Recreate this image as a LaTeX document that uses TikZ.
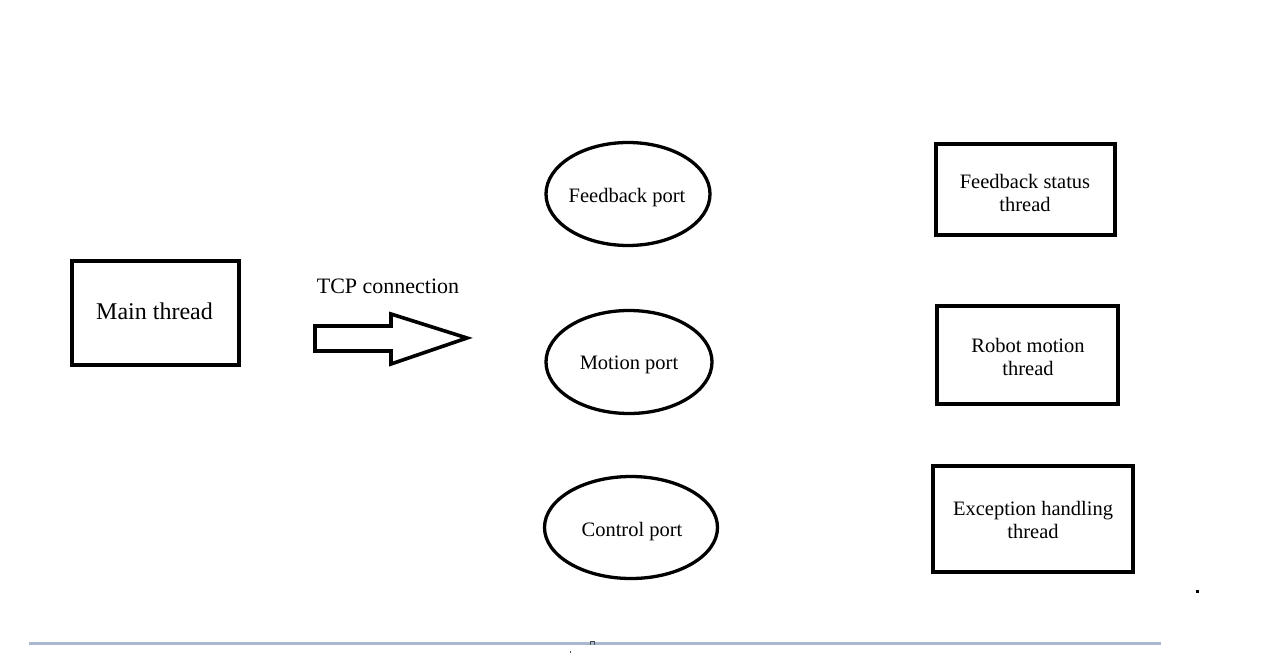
\documentclass[tikz,border=0pt]{standalone}
\usepackage{fontspec}
\setmainfont{Liberation Serif}
\usetikzlibrary{shapes.geometric}
\definecolor{rulegray}{HTML}{A9B8CE}
\tikzset{
  box/.style={draw=black, line width=4pt, rectangle, inner sep=0pt},
  port/.style={draw=black, line width=3.3pt, ellipse, inner sep=0pt},
  txt/.style={inner sep=0pt, align=center, font=\fontsize{20.5}{23}\selectfont},
}
\begin{document}
\begin{tikzpicture}[x=1pt,y=-1pt]
\useasboundingbox (0,0) rectangle (1265,658);
\fill[white] (0,0) rectangle (1265,658);

% left box
\node[box, minimum width=167pt, minimum height=104pt] (main) at (155.5,313) {};
\node[txt, font=\fontsize{24}{27}\selectfont] (maint) at (154.5,311) {Main thread};

% TCP label and block arrow
\node[txt, font=\fontsize{22}{25}\selectfont] (tcp) at (388,286) {TCP connection};
\draw[line width=3.6pt, line join=miter]
  (315,326) -- (391,326) -- (391,314) -- (467,338) -- (391,364) -- (391,351) -- (315,351) -- cycle;

% ports
\node[port, minimum width=164pt, minimum height=103pt] (fb) at (628,194) {};
\node[txt] (fbt) at (627,198) {Feedback port};
\node[port, minimum width=166pt, minimum height=103pt] (mo) at (629,362) {};
\node[txt] (mot) at (629,365) {Motion port};
\node[port, minimum width=173pt, minimum height=102pt] (co) at (631,527.5) {};
\node[txt] (cot) at (632,532) {Control port};

% threads
\node[box, minimum width=179pt, minimum height=91pt] (fst) at (1025.5,189.5) {};
\node[txt] (fstt) at (1025,193) {Feedback status\\thread};
\node[box, minimum width=181pt, minimum height=98pt] (rmt) at (1027.5,355) {};
\node[txt] (rmtt) at (1028,357) {Robot motion\\thread};
\node[box, minimum width=200pt, minimum height=106pt] (eht) at (1033,519) {};
\node[txt] (ehtt) at (1033,520) {Exception handling\\thread};

% stray marks
\fill[black] (1196,589.5) rectangle (1199,592.5);
\draw[rulegray, line width=3pt] (29,643) -- (1161,643);
\draw[black!70, line width=0.8pt] (590.5,645) -- (590.5,641.5) -- (594,641.5) -- (594,645);
\fill[black!70] (569.5,651) rectangle (570.5,653);
\end{tikzpicture}
\end{document}
